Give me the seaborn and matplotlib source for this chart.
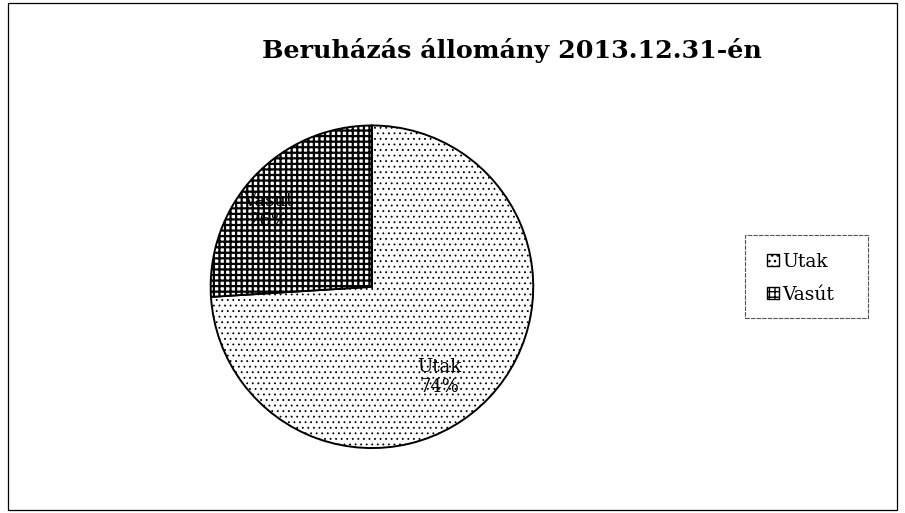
import numpy as np
import pandas as pd
import seaborn as sns
import matplotlib.pyplot as plt
from matplotlib.patches import Patch, Rectangle

categories = ['Utak', 'Vasút']
shares = [74, 26]
title = 'Beruházás állomány 2013.12.31-én'

sns.set_theme(style="white")
plt.rcParams['font.family'] = ['DejaVu Serif']
plt.rcParams['hatch.linewidth'] = 1.0
plt.rcParams['hatch.color'] = 'black'
plt.rcParams['text.color'] = 'black'

df = pd.DataFrame({'category': categories, 'share': shares})
labels = [f"{c}\n{v}%" for c, v in zip(df['category'], df['share'])]
hatches = ['...', '+++']
hatch_lw = [0.6, 1.6]

fig = plt.figure(figsize=(9.05, 5.13), dpi=100)
ax = fig.add_axes([0.231, 0.123, 0.360, 0.636])

wedges, texts = ax.pie(df['share'], labels=labels, startangle=90, counterclock=False,
                       colors=['white', 'white'], labeldistance=0.72,
                       wedgeprops={'linewidth': 1.4, 'edgecolor': 'black'},
                       textprops={'ha': 'center', 'va': 'center', 'fontsize': 13,
                                  'color': 'black', 'multialignment': 'center'})
for w, h, lw in zip(wedges, hatches, hatch_lw):
    w.set_hatch(h)
    if hasattr(w, 'set_hatch_linewidth'):
        w.set_hatch_linewidth(lw)
# nudge labels to where they sit in the original
texts[0].set_position((0.42, -0.56))
texts[1].set_position((-0.64, 0.47))
ax.set_xlim(-1.01, 1.01)
ax.set_ylim(-1.01, 1.01)
ax.set_aspect('equal')
ax.axis('off')

fig.text(0.566, 0.902, title, ha='center', va='center', fontsize=18.3, fontweight='bold',
         color='black')

handles = [Patch(facecolor='white', edgecolor='black', hatch=h, label=c) for c, h in zip(categories, hatches)]
leg = fig.legend(handles=handles, loc='center', bbox_to_anchor=(0.885, 0.457),
                 frameon=False, fontsize=13.5, handlelength=0.6,
                 handleheight=0.6, handletextpad=0.2, labelspacing=0.8,
                 borderpad=0.0, borderaxespad=0)
# legend frame is wider than the entries, drawn separately
fig.patches.append(Rectangle((745 / 905, 195 / 513), 123 / 905, 83 / 513,
                             transform=fig.transFigure, fill=False,
                             edgecolor='#555555', linewidth=0.8, linestyle=(0, (4, 1))))

fig.patches.append(Rectangle((0.009, 0.006), 0.982, 0.988, transform=fig.transFigure,
                             fill=False, edgecolor='black', linewidth=0.9))

fig.savefig('out.png', dpi=100)
